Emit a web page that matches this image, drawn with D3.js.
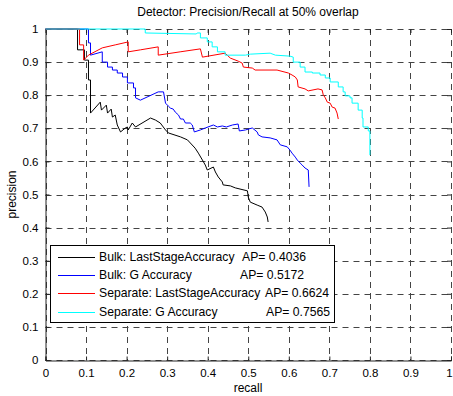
<!DOCTYPE html>
<html>
<head>
<meta charset="utf-8">
<script src="https://cdn.jsdelivr.net/npm/d3@7"></script>
<style>
  html, body { margin: 0; padding: 0; background: #fff; }
  svg { display: block; font-family: "Liberation Sans", Arial, sans-serif; }
</style>
</head>
<body>
<svg id="chart" width="453" height="396"></svg>
<script>
const titleText = "Detector: Precision/Recall at 50% overlap";
const xLabel = "recall";
const yLabel = "precision";
const xTicks = [0, 0.1, 0.2, 0.3, 0.4, 0.5, 0.6, 0.7, 0.8, 0.9, 1];
const yTicks = [0, 0.1, 0.2, 0.3, 0.4, 0.5, 0.6, 0.7, 0.8, 0.9, 1];
const seriesNames = ["Bulk: LastStageAccuracy", "Bulk: G Accuracy", "Separate: LastStageAccuracy", "Separate: G Accuracy"];
const seriesAP = ["AP= 0.4036", "AP= 0.5172", "AP= 0.6624", "AP= 0.7565"];
const seriesColors = ["#000000", "#0000ff", "#ff0000", "#00ffff"];

// Bulk: LastStageAccuracy
const bulkLastRecall = [0, 0.079, 0.079, 0.096, 0.096, 0.106, 0.106, 0.111, 0.111, 0.135, 0.138, 0.150, 0.153, 0.162, 0.165, 0.172, 0.177, 0.185, 0.197, 0.202, 0.204, 0.214, 0.222, 0.259, 0.271, 0.283, 0.296, 0.303, 0.333, 0.350, 0.369, 0.377, 0.387, 0.394, 0.399, 0.414, 0.419, 0.426, 0.436, 0.438, 0.456, 0.468, 0.498, 0.500, 0.505, 0.522, 0.534, 0.542, 0.547, 0.549];
const bulkLastPrecision = [1, 1, 0.937, 0.937, 0.906, 0.906, 0.846, 0.846, 0.746, 0.779, 0.755, 0.770, 0.746, 0.758, 0.734, 0.740, 0.710, 0.689, 0.701, 0.704, 0.695, 0.716, 0.704, 0.731, 0.725, 0.716, 0.695, 0.686, 0.674, 0.665, 0.640, 0.625, 0.604, 0.589, 0.574, 0.583, 0.568, 0.553, 0.538, 0.529, 0.526, 0.520, 0.511, 0.492, 0.477, 0.468, 0.462, 0.447, 0.432, 0.417];

// Bulk: G Accuracy
const bulkGRecall = [0, 0.106, 0.106, 0.111, 0.111, 0.140, 0.140, 0.153, 0.153, 0.165, 0.165, 0.177, 0.177, 0.190, 0.190, 0.202, 0.202, 0.217, 0.217, 0.222, 0.222, 0.234, 0.278, 0.291, 0.296, 0.303, 0.308, 0.315, 0.320, 0.328, 0.333, 0.340, 0.345, 0.357, 0.362, 0.367, 0.382, 0.394, 0.414, 0.424, 0.436, 0.446, 0.461, 0.475, 0.478, 0.493, 0.510, 0.522, 0.525, 0.534, 0.554, 0.571, 0.579, 0.596, 0.603, 0.608, 0.616, 0.621, 0.628, 0.633, 0.640, 0.648, 0.650];
const bulkGPrecision = [1, 1, 0.958, 0.958, 0.921, 0.931, 0.900, 0.900, 0.885, 0.885, 0.876, 0.876, 0.867, 0.867, 0.855, 0.855, 0.837, 0.837, 0.822, 0.822, 0.792, 0.785, 0.810, 0.810, 0.776, 0.767, 0.761, 0.758, 0.749, 0.740, 0.728, 0.728, 0.716, 0.716, 0.710, 0.689, 0.695, 0.701, 0.710, 0.704, 0.707, 0.704, 0.710, 0.713, 0.692, 0.695, 0.701, 0.689, 0.680, 0.674, 0.671, 0.665, 0.650, 0.644, 0.634, 0.625, 0.613, 0.604, 0.595, 0.589, 0.580, 0.574, 0.523];

// Separate: LastStageAccuracy
const sepLastRecall = [0, 0.084, 0.084, 0.094, 0.094, 0.106, 0.140, 0.172, 0.204, 0.204, 0.234, 0.278, 0.278, 0.332, 0.382, 0.387, 0.443, 0.448, 0.456, 0.475, 0.485, 0.488, 0.510, 0.517, 0.571, 0.599, 0.608, 0.616, 0.621, 0.623, 0.640, 0.648, 0.672, 0.682, 0.685, 0.690, 0.695, 0.702, 0.707, 0.714, 0.719, 0.722];
const sepLastPrecision = [1, 1, 0.952, 0.952, 0.906, 0.921, 0.943, 0.952, 0.961, 0.931, 0.937, 0.946, 0.921, 0.931, 0.940, 0.915, 0.927, 0.921, 0.912, 0.903, 0.897, 0.885, 0.882, 0.876, 0.876, 0.867, 0.861, 0.855, 0.846, 0.825, 0.819, 0.813, 0.819, 0.816, 0.801, 0.792, 0.779, 0.776, 0.764, 0.761, 0.746, 0.728];

// Separate: G Accuracy
const sepGRecall = [0, 0.246, 0.246, 0.372, 0.374, 0.382, 0.382, 0.399, 0.399, 0.411, 0.411, 0.424, 0.424, 0.443, 0.443, 0.493, 0.505, 0.554, 0.567, 0.603, 0.611, 0.611, 0.628, 0.628, 0.640, 0.640, 0.658, 0.658, 0.677, 0.677, 0.690, 0.690, 0.702, 0.702, 0.722, 0.722, 0.734, 0.734, 0.739, 0.739, 0.751, 0.751, 0.756, 0.756, 0.771, 0.771, 0.781, 0.781, 0.783, 0.783, 0.796, 0.796, 0.800, 0.800];
const sepGPrecision = [1, 1, 0.988, 0.985, 0.988, 0.988, 0.973, 0.973, 0.961, 0.961, 0.946, 0.946, 0.931, 0.931, 0.921, 0.921, 0.924, 0.927, 0.921, 0.918, 0.915, 0.900, 0.900, 0.885, 0.885, 0.870, 0.870, 0.867, 0.867, 0.861, 0.861, 0.852, 0.852, 0.840, 0.840, 0.825, 0.825, 0.810, 0.810, 0.798, 0.798, 0.792, 0.792, 0.776, 0.776, 0.755, 0.755, 0.731, 0.731, 0.704, 0.704, 0.692, 0.692, 0.619];

const recalls = [bulkLastRecall, bulkGRecall, sepLastRecall, sepGRecall];
const precisions = [bulkLastPrecision, bulkGPrecision, sepLastPrecision, sepGPrecision];

const svg = d3.select("#chart");
const plotLeft = 45.5, plotRight = 451, plotTop = 29, plotBottom = 360;
const x = d3.scaleLinear().domain([0, 1]).range([plotLeft, plotRight]);
const y = d3.scaleLinear().domain([0, 1]).range([plotBottom, plotTop]);
const FONT = "'Liberation Sans', Arial, sans-serif";

// grid
const grid = svg.append("g");
grid.selectAll("line.gx").data(xTicks).enter().append("line")
  .attr("x1", d => Math.round(x(d)) + 0.5).attr("x2", d => Math.round(x(d)) + 0.5)
  .attr("y1", plotTop).attr("y2", plotBottom)
  .attr("stroke", "#444").attr("stroke-width", 1).attr("stroke-dasharray", "6,5");
grid.selectAll("line.gy").data(yTicks).enter().append("line")
  .attr("y1", d => Math.round(y(d)) + 0.5).attr("y2", d => Math.round(y(d)) + 0.5)
  .attr("x1", plotLeft).attr("x2", plotRight)
  .attr("stroke", "#444").attr("stroke-width", 1).attr("stroke-dasharray", "6,5");

// axes
const xAxis = d3.axisBottom(x).tickValues(xTicks).tickSize(-4).tickPadding(8).tickFormat(d => d3.format("")(d));
const yAxis = d3.axisLeft(y).tickValues(yTicks).tickSize(-4).tickPadding(7).tickFormat(d => d3.format("")(d));
const gx = svg.append("g").attr("transform", `translate(0,${plotBottom + 0.5})`).call(xAxis);
const gy = svg.append("g").attr("transform", `translate(${plotLeft},0)`).call(yAxis);
[gx, gy].forEach(g => {
  g.select(".domain").attr("stroke", "#222").attr("stroke-width", 1);
  g.selectAll(".tick line").attr("stroke", "#222");
  g.selectAll(".tick text").attr("font-size", 11.5).attr("fill", "#000").attr("font-family", FONT);
});
gx.selectAll(".tick text").filter(d => d === 1).attr("dx", -2);
// top and right ticks
const gt = svg.append("g").attr("transform", `translate(0,${plotTop})`)
  .call(d3.axisTop(x).tickValues(xTicks).tickSize(-4).tickFormat(""));
const gr = svg.append("g").attr("transform", `translate(${plotRight},0)`)
  .call(d3.axisRight(y).tickValues(yTicks).tickSize(-4).tickFormat(""));
[gt, gr].forEach(g => {
  g.select(".domain").remove();
  g.selectAll(".tick line").attr("stroke", "#222");
});

// curves
const pathGen = d3.line().x(d => x(d[0])).y(d => y(d[1]));
recalls.forEach((rs, i) => {
  const pts = rs.map((r, j) => [r, precisions[i][j]]);
  svg.append("path").datum(pts)
    .attr("d", pathGen).attr("fill", "none")
    .attr("stroke", seriesColors[i]).attr("stroke-width", 1)
    .attr("stroke-linejoin", "miter");
});

// title and labels
svg.append("text").attr("x", 248).attr("y", 16).attr("text-anchor", "middle")
  .attr("font-size", 12).attr("font-family", FONT).text(titleText);
svg.append("text").attr("x", 248).attr("y", 392).attr("text-anchor", "middle")
  .attr("font-size", 12).attr("font-family", FONT).text(xLabel);
svg.append("text").attr("transform", `translate(16,${(plotTop + plotBottom) / 2}) rotate(-90)`)
  .attr("text-anchor", "middle").attr("font-size", 12).attr("font-family", FONT).text(yLabel);

// legend
const lg = svg.append("g");
lg.append("rect").attr("x", 50.5).attr("y", 245.5).attr("width", 284).attr("height", 77)
  .attr("fill", "#fff").attr("stroke", "#000").attr("stroke-width", 1);
const rowY = [257, 275, 293, 312];
const apX = [242, 240, 265, 266];
seriesNames.forEach((name, i) => {
  lg.append("path")
    .attr("d", d3.line()([[58, rowY[i] + 0.5], [95, rowY[i] + 0.5]]))
    .attr("stroke", seriesColors[i]).attr("stroke-width", 1).attr("fill", "none");
  lg.append("text").attr("x", 99).attr("y", rowY[i] + 4).attr("font-size", 12.2).attr("font-family", FONT).text(name);
  lg.append("text").attr("x", apX[i]).attr("y", rowY[i] + 4).attr("font-size", 12.2).attr("font-family", FONT).text(seriesAP[i]);
});
</script>
</body>
</html>
